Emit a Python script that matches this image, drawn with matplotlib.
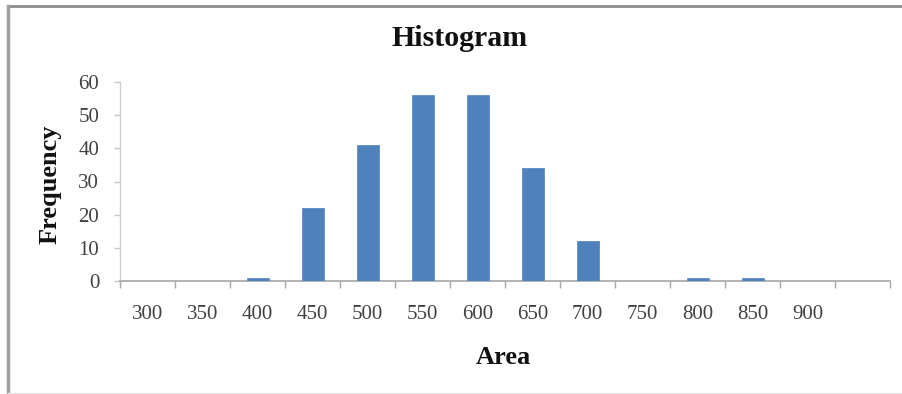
import matplotlib
matplotlib.use("Agg")
import matplotlib.pyplot as plt
from matplotlib.lines import Line2D
import numpy as np

# Bin labels (upper edge of each bin) and counts; last bin is the unlabeled overflow bin
bins = ["300", "350", "400", "450", "500", "550", "600", "650", "700",
        "750", "800", "850", "900", ""]
counts = [0, 0, 1, 22, 41, 56, 56, 34, 12, 0, 1, 1, 0, 0]
y_ticks = [0, 10, 20, 30, 40, 50, 60]

plt.rcParams["font.family"] = ["Liberation Serif", "DejaVu Serif"]

fig = plt.figure(figsize=(9.02, 3.94), dpi=100)
fig.patch.set_facecolor("white")
ax = fig.add_axes([120 / 902, 1 - 281 / 394, (890 - 120) / 902, (281 - 82) / 394])

x = np.arange(len(bins))
ax.bar(x, counts, width=0.4, color="#4F81BD", edgecolor="#4F81BD", linewidth=0.5, zorder=3)

ax.set_xlim(-0.5, len(bins) - 0.5)
ax.set_ylim(0, 60)

# Category labels centered under bins, tick marks on bin boundaries
ax.set_xticks(x)
ax.set_xticklabels(bins, fontsize=15, color="#404040")
ax.tick_params(axis="x", which="major", length=0, pad=17)
ax.set_xticks(np.arange(len(bins) + 1) - 0.5, minor=True)
ax.tick_params(axis="x", which="minor", length=5, width=1, color="#A6A6A6", direction="out")

ax.set_yticks(y_ticks)
ax.set_yticklabels([str(v) for v in y_ticks], fontsize=15, color="#404040")
ax.tick_params(axis="y", length=4, width=1, color="#C8C8C8", pad=11)

for side in ["top", "right"]:
    ax.spines[side].set_visible(False)
ax.spines["bottom"].set_color("#A6A6A6")
ax.spines["bottom"].set_linewidth(1.2)
ax.spines["left"].set_color("#D0D0D0")
ax.spines["left"].set_linewidth(1.0)

fig.text(460 / 902, 1 - 38 / 394, "Histogram", ha="center", va="center",
         fontsize=21.5, fontweight="bold", color="#111111")
fig.text(503 / 902, 1 - 357 / 394, "Area", ha="center", va="center",
         fontsize=19, fontweight="bold", color="#111111")
fig.text(50 / 902, 1 - 184 / 394, "Frequency", ha="center", va="center",
         rotation=90, fontsize=19, fontweight="bold", color="#111111")

# Outer chart border (top and left edges)
fig.add_artist(Line2D([8 / 902, 1.0], [1 - 6 / 394, 1 - 6 / 394],
                      transform=fig.transFigure, color="#8C8C8C", linewidth=2))
fig.add_artist(Line2D([8 / 902, 8 / 902], [0.0, 1 - 6 / 394],
                      transform=fig.transFigure, color="#A0A0A0", linewidth=2.5))
fig.add_artist(Line2D([8 / 902, 1.0], [1 / 394, 1 / 394],
                      transform=fig.transFigure, color="#E6E6E6", linewidth=1))

fig.savefig("out.png", dpi=100, facecolor="white")
